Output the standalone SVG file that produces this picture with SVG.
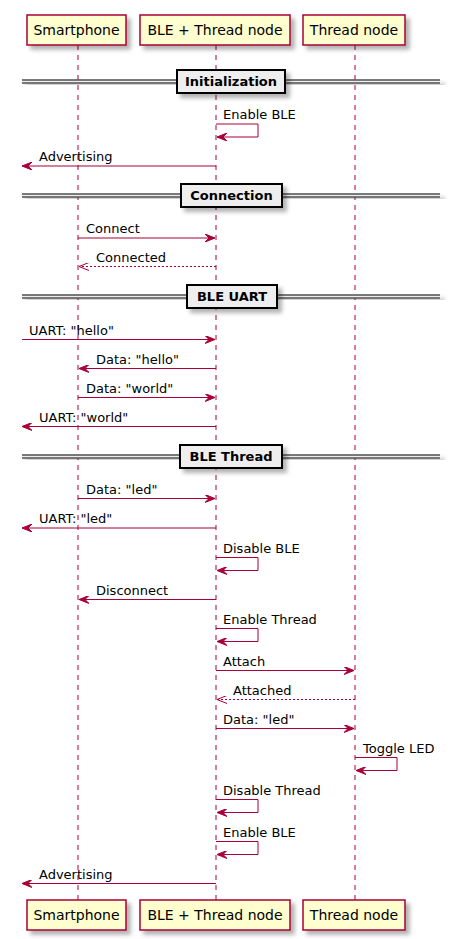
<svg xmlns="http://www.w3.org/2000/svg" width="452" height="939" viewBox="0 0 452 939">
<defs>
<filter id="sh" x="-10%" y="-10%" width="130%" height="160%">
<feDropShadow dx="4" dy="4" stdDeviation="2" flood-color="#000" flood-opacity="0.3"/>
</filter>
<marker id="ah" viewBox="0 0 10 8" refX="10" refY="4" markerWidth="10" markerHeight="8" markerUnits="userSpaceOnUse" orient="auto">
<path d="M0,0 L10,4 L0,8 L4,4 Z" fill="#A80036" stroke="#A80036" stroke-width="1"/>
</marker>
<marker id="oh" viewBox="0 0 10 8" refX="10" refY="4" markerWidth="10" markerHeight="8" markerUnits="userSpaceOnUse" orient="auto">
<path d="M0,0 L10,4 L0,8" fill="none" stroke="#A80036" stroke-width="1"/>
</marker>
</defs>
<style>
.box{fill:#FEFECE;stroke:#A80036;stroke-width:1.5;filter:url(#sh)}
.pt{font-family:"DejaVu Sans",sans-serif;font-size:14px;fill:#000;text-anchor:middle}
.life{stroke:#A80036;stroke-width:1;stroke-dasharray:5,5}
.msg{stroke:#A80036;stroke-width:1;fill:none;marker-end:url(#ah)}
.dot{stroke:#A80036;stroke-width:1;fill:none;stroke-dasharray:2,2;marker-end:url(#oh)}
.mt{font-family:"DejaVu Sans",sans-serif;font-size:13px;fill:#000}
.dband{fill:#EEEEEE;stroke:#EEEEEE;stroke-width:1;filter:url(#sh)}
.dline{stroke:#000;stroke-width:1}
.dbox{fill:#EEEEEE;stroke:#000;stroke-width:2;filter:url(#sh)}
.dt{font-family:"DejaVu Sans",sans-serif;font-size:13px;font-weight:bold;fill:#000;text-anchor:middle}
</style>
<rect width="452" height="939" fill="#FFFFFF"/>
<g id="lifelines">
<line class="life" x1="78" y1="45" x2="78" y2="900"/>
<line class="life" x1="216" y1="45" x2="216" y2="900"/>
<line class="life" x1="355" y1="45" x2="355" y2="900"/>
</g>
<g id="smartphone">
<rect class="box" x="27" y="15" width="99" height="30"/>
<text class="pt" x="76.5" y="35">Smartphone</text>
<rect class="box" x="27" y="900" width="99" height="30"/>
<text class="pt" x="76.5" y="920">Smartphone</text>
</g>
<g id="ble-thread-node">
<rect class="box" x="140" y="15" width="150" height="30"/>
<text class="pt" x="215" y="35">BLE + Thread node</text>
<rect class="box" x="140" y="900" width="150" height="30"/>
<text class="pt" x="215" y="920">BLE + Thread node</text>
</g>
<g id="thread-node">
<rect class="box" x="303" y="15" width="102" height="30"/>
<text class="pt" x="354" y="35">Thread node</text>
<rect class="box" x="303" y="900" width="102" height="30"/>
<text class="pt" x="354" y="920">Thread node</text>
</g>
<g id="div-initialization">
<rect class="dband" x="22" y="80" width="418" height="3"/>
<line class="dline" x1="22" y1="80" x2="440" y2="80"/>
<line class="dline" x1="22" y1="83" x2="440" y2="83"/>
<rect class="dbox" x="177" y="70" width="108" height="23"/>
<text class="dt" x="231" y="86">Initialization</text>
</g>
<g id="div-connection">
<rect class="dband" x="22" y="194" width="418" height="3"/>
<line class="dline" x1="22" y1="194" x2="440" y2="194"/>
<line class="dline" x1="22" y1="197" x2="440" y2="197"/>
<rect class="dbox" x="181" y="184" width="101" height="23"/>
<text class="dt" x="231.5" y="200">Connection</text>
</g>
<g id="div-ble-uart">
<rect class="dband" x="22" y="295" width="418" height="3"/>
<line class="dline" x1="22" y1="295" x2="440" y2="295"/>
<line class="dline" x1="22" y1="298" x2="440" y2="298"/>
<rect class="dbox" x="187" y="285" width="90" height="23"/>
<text class="dt" x="232" y="301">BLE UART</text>
</g>
<g id="div-ble-thread">
<rect class="dband" x="22" y="455" width="418" height="3"/>
<line class="dline" x1="22" y1="455" x2="440" y2="455"/>
<line class="dline" x1="22" y1="458" x2="440" y2="458"/>
<rect class="dbox" x="180" y="445" width="102" height="23"/>
<text class="dt" x="231" y="461">BLE Thread</text>
</g>
<g id="connectors">
<path class="msg" d="M216,124 H258 V137 H217"/>
<text class="mt" x="223" y="119">Enable BLE</text>
<line class="msg" x1="216" y1="166" x2="22" y2="166"/>
<text class="mt" x="39" y="161">Advertising</text>
<line class="msg" x1="78" y1="238" x2="215" y2="238"/>
<text class="mt" x="86" y="233">Connect</text>
<line class="dot" x1="216" y1="266.5" x2="79" y2="266.5"/>
<text class="mt" x="96" y="261.5">Connected</text>
<line class="msg" x1="22" y1="339.5" x2="215" y2="339.5"/>
<text class="mt" x="29" y="334.5">UART: "hello"</text>
<line class="msg" x1="216" y1="368.5" x2="79" y2="368.5"/>
<text class="mt" x="96" y="363.5">Data: "hello"</text>
<line class="msg" x1="78" y1="397.5" x2="215" y2="397.5"/>
<text class="mt" x="86" y="392.5">Data: "world"</text>
<line class="msg" x1="216" y1="426.5" x2="22" y2="426.5"/>
<text class="mt" x="39" y="421.5">UART: "world"</text>
<line class="msg" x1="78" y1="498.5" x2="215" y2="498.5"/>
<text class="mt" x="86" y="493.5">Data: "led"</text>
<line class="msg" x1="216" y1="528" x2="22" y2="528"/>
<text class="mt" x="39" y="523">UART: "led"</text>
<path class="msg" d="M216,557.5 H258 V570.5 H217"/>
<text class="mt" x="223" y="552.5">Disable BLE</text>
<line class="msg" x1="216" y1="599.5" x2="79" y2="599.5"/>
<text class="mt" x="96" y="594.5">Disconnect</text>
<path class="msg" d="M216,628.5 H258 V641.5 H217"/>
<text class="mt" x="223" y="623.5">Enable Thread</text>
<line class="msg" x1="216" y1="670.5" x2="354" y2="670.5"/>
<text class="mt" x="223" y="665.5">Attach</text>
<line class="dot" x1="355" y1="699.5" x2="217" y2="699.5"/>
<text class="mt" x="233" y="694.5">Attached</text>
<line class="msg" x1="216" y1="728.5" x2="354" y2="728.5"/>
<text class="mt" x="223" y="723.5">Data: "led"</text>
<path class="msg" d="M355,757.5 H397 V770.5 H356"/>
<text class="mt" x="363" y="752.5">Toggle LED</text>
<path class="msg" d="M216,799.5 H258 V812.5 H217"/>
<text class="mt" x="223" y="794.5">Disable Thread</text>
<path class="msg" d="M216,841.5 H258 V854.5 H217"/>
<text class="mt" x="223" y="836.5">Enable BLE</text>
<line class="msg" x1="216" y1="883.5" x2="22" y2="883.5"/>
<text class="mt" x="39" y="878.5">Advertising</text>
</g>
</svg>
